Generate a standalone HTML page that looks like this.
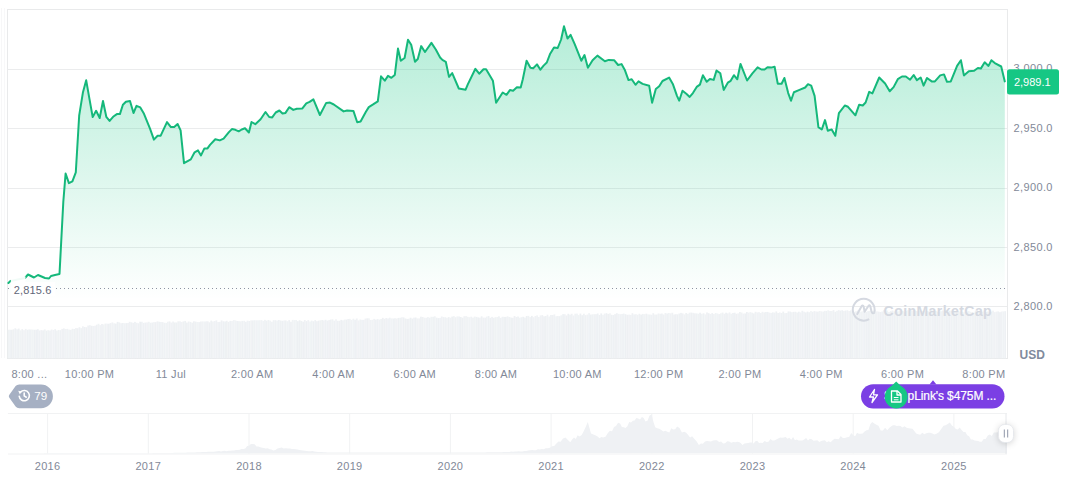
<!DOCTYPE html>
<html><head><meta charset="utf-8">
<style>
html,body{margin:0;padding:0;background:#fff;}
body{width:1072px;height:477px;overflow:hidden;position:relative;font-family:"Liberation Sans",sans-serif;}
svg{position:absolute;left:0;top:0;}
.lbl{font-family:"Liberation Sans",sans-serif;font-size:11px;fill:#828998;letter-spacing:0.3px;}
</style></head><body>
<svg width="1072" height="477" viewBox="0 0 1072 477">
<defs>
<linearGradient id="ag" x1="0" y1="26" x2="0" y2="300" gradientUnits="userSpaceOnUse">
<stop offset="0" stop-color="#16c784" stop-opacity="0.32"/>
<stop offset="1" stop-color="#16c784" stop-opacity="0.0"/>
</linearGradient>
<clipPath id="pc"><rect x="7.5" y="9.5" width="999.5" height="349"/></clipPath>
</defs>
<line x1="1.5" y1="8" x2="1.5" y2="358" stroke="#f7f7f8" stroke-width="1"/><line x1="4.5" y1="8" x2="4.5" y2="358" stroke="#f8f8f9" stroke-width="1"/>
<!-- frame -->
<rect x="7.5" y="9.5" width="1000" height="349" fill="none" stroke="#e9eaeb" stroke-width="1"/>
<g stroke="#ebeced" stroke-width="1"><line x1="7.5" y1="69.5" x2="1007" y2="69.5"/><line x1="7.5" y1="128.5" x2="1007" y2="128.5"/><line x1="7.5" y1="188.5" x2="1007" y2="188.5"/><line x1="7.5" y1="247.5" x2="1007" y2="247.5"/><line x1="7.5" y1="306.5" x2="1007" y2="306.5"/></g>
<!-- volume -->
<g fill="#edf0f3"><rect x="7.50" y="329.7" width="1.73" height="28.8" fill-opacity="0.82"/><rect x="9.23" y="329.8" width="1.73" height="28.7" fill-opacity="0.93"/><rect x="10.97" y="329.8" width="1.73" height="28.7" fill-opacity="0.99"/><rect x="12.70" y="329.3" width="1.73" height="29.2" fill-opacity="0.96"/><rect x="14.43" y="328.3" width="1.73" height="30.2" fill-opacity="0.95"/><rect x="16.17" y="329.3" width="1.73" height="29.2" fill-opacity="0.94"/><rect x="17.90" y="328.6" width="1.73" height="29.9" fill-opacity="0.95"/><rect x="19.63" y="330.3" width="1.73" height="28.2" fill-opacity="0.81"/><rect x="21.37" y="329.1" width="1.73" height="29.4" fill-opacity="0.91"/><rect x="23.10" y="330.2" width="1.73" height="28.3" fill-opacity="0.85"/><rect x="24.84" y="328.9" width="1.73" height="29.6" fill-opacity="0.85"/><rect x="26.57" y="329.8" width="1.73" height="28.7" fill-opacity="0.95"/><rect x="28.30" y="329.4" width="1.73" height="29.1" fill-opacity="0.87"/><rect x="30.04" y="329.5" width="1.73" height="29.0" fill-opacity="0.87"/><rect x="31.77" y="329.6" width="1.73" height="28.9" fill-opacity="0.82"/><rect x="33.50" y="329.8" width="1.73" height="28.7" fill-opacity="0.99"/><rect x="35.24" y="329.7" width="1.73" height="28.8" fill-opacity="0.95"/><rect x="36.97" y="329.2" width="1.73" height="29.3" fill-opacity="0.94"/><rect x="38.70" y="330.5" width="1.73" height="28.0" fill-opacity="0.93"/><rect x="40.44" y="330.1" width="1.73" height="28.4" fill-opacity="0.90"/><rect x="42.17" y="330.4" width="1.73" height="28.1" fill-opacity="0.98"/><rect x="43.90" y="329.4" width="1.73" height="29.1" fill-opacity="0.82"/><rect x="45.64" y="330.7" width="1.73" height="27.8" fill-opacity="0.98"/><rect x="47.37" y="330.2" width="1.73" height="28.3" fill-opacity="0.89"/><rect x="49.10" y="330.5" width="1.73" height="28.0" fill-opacity="0.84"/><rect x="50.84" y="329.5" width="1.73" height="29.0" fill-opacity="0.84"/><rect x="52.57" y="330.0" width="1.73" height="28.5" fill-opacity="0.86"/><rect x="54.30" y="329.2" width="1.73" height="29.3" fill-opacity="0.94"/><rect x="56.04" y="330.6" width="1.73" height="27.9" fill-opacity="0.86"/><rect x="57.77" y="330.0" width="1.73" height="28.5" fill-opacity="0.88"/><rect x="59.51" y="330.2" width="1.73" height="28.3" fill-opacity="0.92"/><rect x="61.24" y="328.9" width="1.73" height="29.6" fill-opacity="0.84"/><rect x="62.97" y="328.4" width="1.73" height="30.1" fill-opacity="0.90"/><rect x="64.71" y="329.0" width="1.73" height="29.5" fill-opacity="0.83"/><rect x="66.44" y="328.9" width="1.73" height="29.6" fill-opacity="0.86"/><rect x="68.17" y="329.6" width="1.73" height="28.9" fill-opacity="0.83"/><rect x="69.91" y="329.9" width="1.73" height="28.6" fill-opacity="0.90"/><rect x="71.64" y="328.8" width="1.73" height="29.7" fill-opacity="0.89"/><rect x="73.37" y="329.0" width="1.73" height="29.5" fill-opacity="0.96"/><rect x="75.11" y="328.1" width="1.73" height="30.4" fill-opacity="0.90"/><rect x="76.84" y="328.2" width="1.73" height="30.3" fill-opacity="0.97"/><rect x="78.57" y="327.2" width="1.73" height="31.3" fill-opacity="0.95"/><rect x="80.31" y="328.1" width="1.73" height="30.4" fill-opacity="0.89"/><rect x="82.04" y="326.3" width="1.73" height="32.2" fill-opacity="0.85"/><rect x="83.77" y="327.0" width="1.73" height="31.5" fill-opacity="0.94"/><rect x="85.51" y="327.2" width="1.73" height="31.3" fill-opacity="0.97"/><rect x="87.24" y="325.5" width="1.73" height="33.0" fill-opacity="0.84"/><rect x="88.97" y="325.2" width="1.73" height="33.3" fill-opacity="0.84"/><rect x="90.71" y="325.8" width="1.73" height="32.7" fill-opacity="0.97"/><rect x="92.44" y="326.0" width="1.73" height="32.5" fill-opacity="0.85"/><rect x="94.18" y="325.7" width="1.73" height="32.8" fill-opacity="0.86"/><rect x="95.91" y="324.7" width="1.73" height="33.8" fill-opacity="0.95"/><rect x="97.64" y="323.8" width="1.73" height="34.7" fill-opacity="0.82"/><rect x="99.38" y="325.1" width="1.73" height="33.4" fill-opacity="0.86"/><rect x="101.11" y="324.0" width="1.73" height="34.5" fill-opacity="0.92"/><rect x="102.84" y="324.4" width="1.73" height="34.1" fill-opacity="0.80"/><rect x="104.58" y="323.6" width="1.73" height="34.9" fill-opacity="0.89"/><rect x="106.31" y="323.7" width="1.73" height="34.8" fill-opacity="0.84"/><rect x="108.04" y="323.7" width="1.73" height="34.8" fill-opacity="0.99"/><rect x="109.78" y="323.1" width="1.73" height="35.4" fill-opacity="0.91"/><rect x="111.51" y="322.4" width="1.73" height="36.1" fill-opacity="0.85"/><rect x="113.24" y="323.3" width="1.73" height="35.2" fill-opacity="0.82"/><rect x="114.98" y="323.6" width="1.73" height="34.9" fill-opacity="0.98"/><rect x="116.71" y="321.9" width="1.73" height="36.6" fill-opacity="0.99"/><rect x="118.44" y="322.4" width="1.73" height="36.1" fill-opacity="0.95"/><rect x="120.18" y="323.2" width="1.73" height="35.3" fill-opacity="0.86"/><rect x="121.91" y="323.0" width="1.73" height="35.5" fill-opacity="0.93"/><rect x="123.64" y="323.2" width="1.73" height="35.3" fill-opacity="0.85"/><rect x="125.38" y="323.1" width="1.73" height="35.4" fill-opacity="0.99"/><rect x="127.11" y="323.0" width="1.73" height="35.5" fill-opacity="0.91"/><rect x="128.85" y="321.8" width="1.73" height="36.7" fill-opacity="0.90"/><rect x="130.58" y="322.3" width="1.73" height="36.2" fill-opacity="0.94"/><rect x="132.31" y="322.9" width="1.73" height="35.6" fill-opacity="0.91"/><rect x="134.05" y="321.9" width="1.73" height="36.6" fill-opacity="0.93"/><rect x="135.78" y="322.8" width="1.73" height="35.7" fill-opacity="0.84"/><rect x="137.51" y="323.3" width="1.73" height="35.2" fill-opacity="0.93"/><rect x="139.25" y="321.7" width="1.73" height="36.8" fill-opacity="0.99"/><rect x="140.98" y="321.8" width="1.73" height="36.7" fill-opacity="0.87"/><rect x="142.71" y="322.9" width="1.73" height="35.6" fill-opacity="0.92"/><rect x="144.45" y="322.6" width="1.73" height="35.9" fill-opacity="0.93"/><rect x="146.18" y="322.4" width="1.73" height="36.1" fill-opacity="0.86"/><rect x="147.91" y="321.8" width="1.73" height="36.7" fill-opacity="0.81"/><rect x="149.65" y="322.8" width="1.73" height="35.7" fill-opacity="0.95"/><rect x="151.38" y="322.5" width="1.73" height="36.0" fill-opacity="0.95"/><rect x="153.11" y="322.1" width="1.73" height="36.4" fill-opacity="0.85"/><rect x="154.85" y="322.1" width="1.73" height="36.4" fill-opacity="0.97"/><rect x="156.58" y="321.4" width="1.73" height="37.1" fill-opacity="0.90"/><rect x="158.32" y="321.8" width="1.73" height="36.7" fill-opacity="0.95"/><rect x="160.05" y="322.0" width="1.73" height="36.5" fill-opacity="0.87"/><rect x="161.78" y="322.1" width="1.73" height="36.4" fill-opacity="0.91"/><rect x="163.52" y="322.8" width="1.73" height="35.7" fill-opacity="0.87"/><rect x="165.25" y="322.9" width="1.73" height="35.6" fill-opacity="0.82"/><rect x="166.98" y="321.7" width="1.73" height="36.8" fill-opacity="0.82"/><rect x="168.72" y="321.4" width="1.73" height="37.1" fill-opacity="0.96"/><rect x="170.45" y="322.6" width="1.73" height="35.9" fill-opacity="0.84"/><rect x="172.18" y="321.5" width="1.73" height="37.0" fill-opacity="0.88"/><rect x="173.92" y="322.5" width="1.73" height="36.0" fill-opacity="0.96"/><rect x="175.65" y="322.5" width="1.73" height="36.0" fill-opacity="0.92"/><rect x="177.38" y="321.3" width="1.73" height="37.2" fill-opacity="0.88"/><rect x="179.12" y="321.3" width="1.73" height="37.2" fill-opacity="0.91"/><rect x="180.85" y="322.0" width="1.73" height="36.5" fill-opacity="0.84"/><rect x="182.58" y="321.4" width="1.73" height="37.1" fill-opacity="0.96"/><rect x="184.32" y="320.9" width="1.73" height="37.6" fill-opacity="0.96"/><rect x="186.05" y="322.6" width="1.73" height="35.9" fill-opacity="0.99"/><rect x="187.78" y="321.5" width="1.73" height="37.0" fill-opacity="0.91"/><rect x="189.52" y="321.9" width="1.73" height="36.6" fill-opacity="0.93"/><rect x="191.25" y="322.7" width="1.73" height="35.8" fill-opacity="0.94"/><rect x="192.99" y="321.3" width="1.73" height="37.2" fill-opacity="0.97"/><rect x="194.72" y="321.6" width="1.73" height="36.9" fill-opacity="0.92"/><rect x="196.45" y="322.0" width="1.73" height="36.5" fill-opacity="0.80"/><rect x="198.19" y="322.1" width="1.73" height="36.4" fill-opacity="0.93"/><rect x="199.92" y="321.5" width="1.73" height="37.0" fill-opacity="0.90"/><rect x="201.65" y="321.4" width="1.73" height="37.1" fill-opacity="0.84"/><rect x="203.39" y="321.5" width="1.73" height="37.0" fill-opacity="0.81"/><rect x="205.12" y="321.4" width="1.73" height="37.1" fill-opacity="0.93"/><rect x="206.85" y="321.3" width="1.73" height="37.2" fill-opacity="0.91"/><rect x="208.59" y="322.3" width="1.73" height="36.2" fill-opacity="0.98"/><rect x="210.32" y="320.6" width="1.73" height="37.9" fill-opacity="0.96"/><rect x="212.05" y="321.5" width="1.73" height="37.0" fill-opacity="0.81"/><rect x="213.79" y="321.0" width="1.73" height="37.5" fill-opacity="0.85"/><rect x="215.52" y="320.4" width="1.73" height="38.1" fill-opacity="0.91"/><rect x="217.25" y="322.0" width="1.73" height="36.5" fill-opacity="0.86"/><rect x="218.99" y="321.9" width="1.73" height="36.6" fill-opacity="0.94"/><rect x="220.72" y="320.4" width="1.73" height="38.1" fill-opacity="0.97"/><rect x="222.45" y="321.3" width="1.73" height="37.2" fill-opacity="0.99"/><rect x="224.19" y="321.5" width="1.73" height="37.0" fill-opacity="0.95"/><rect x="225.92" y="320.8" width="1.73" height="37.7" fill-opacity="0.96"/><rect x="227.66" y="321.9" width="1.73" height="36.6" fill-opacity="0.97"/><rect x="229.39" y="320.9" width="1.73" height="37.6" fill-opacity="0.95"/><rect x="231.12" y="321.0" width="1.73" height="37.5" fill-opacity="0.82"/><rect x="232.86" y="320.1" width="1.73" height="38.4" fill-opacity="0.82"/><rect x="234.59" y="320.4" width="1.73" height="38.1" fill-opacity="0.83"/><rect x="236.32" y="321.0" width="1.73" height="37.5" fill-opacity="0.94"/><rect x="238.06" y="321.1" width="1.73" height="37.4" fill-opacity="0.88"/><rect x="239.79" y="321.3" width="1.73" height="37.2" fill-opacity="0.86"/><rect x="241.52" y="320.9" width="1.73" height="37.6" fill-opacity="0.95"/><rect x="243.26" y="320.8" width="1.73" height="37.7" fill-opacity="0.84"/><rect x="244.99" y="321.8" width="1.73" height="36.7" fill-opacity="0.94"/><rect x="246.72" y="320.7" width="1.73" height="37.8" fill-opacity="0.87"/><rect x="248.46" y="321.0" width="1.73" height="37.5" fill-opacity="0.92"/><rect x="250.19" y="320.4" width="1.73" height="38.1" fill-opacity="0.80"/><rect x="251.92" y="320.4" width="1.73" height="38.1" fill-opacity="0.96"/><rect x="253.66" y="320.2" width="1.73" height="38.3" fill-opacity="0.89"/><rect x="255.39" y="320.3" width="1.73" height="38.2" fill-opacity="0.84"/><rect x="257.12" y="320.3" width="1.73" height="38.2" fill-opacity="0.88"/><rect x="258.86" y="320.2" width="1.73" height="38.3" fill-opacity="0.81"/><rect x="260.59" y="320.1" width="1.73" height="38.4" fill-opacity="0.83"/><rect x="262.33" y="320.9" width="1.73" height="37.6" fill-opacity="0.81"/><rect x="264.06" y="319.9" width="1.73" height="38.6" fill-opacity="0.89"/><rect x="265.79" y="320.7" width="1.73" height="37.8" fill-opacity="0.94"/><rect x="267.53" y="320.0" width="1.73" height="38.5" fill-opacity="0.88"/><rect x="269.26" y="320.7" width="1.73" height="37.8" fill-opacity="0.81"/><rect x="270.99" y="321.8" width="1.73" height="36.7" fill-opacity="0.84"/><rect x="272.73" y="320.1" width="1.73" height="38.4" fill-opacity="0.89"/><rect x="274.46" y="320.2" width="1.73" height="38.3" fill-opacity="0.92"/><rect x="276.19" y="320.6" width="1.73" height="37.9" fill-opacity="0.82"/><rect x="277.93" y="320.0" width="1.73" height="38.5" fill-opacity="0.95"/><rect x="279.66" y="320.5" width="1.73" height="38.0" fill-opacity="0.96"/><rect x="281.39" y="320.8" width="1.73" height="37.7" fill-opacity="0.99"/><rect x="283.13" y="320.5" width="1.73" height="38.0" fill-opacity="0.85"/><rect x="284.86" y="320.4" width="1.73" height="38.1" fill-opacity="0.96"/><rect x="286.59" y="321.2" width="1.73" height="37.3" fill-opacity="0.87"/><rect x="288.33" y="320.1" width="1.73" height="38.4" fill-opacity="0.94"/><rect x="290.06" y="321.8" width="1.73" height="36.7" fill-opacity="0.92"/><rect x="291.80" y="319.9" width="1.73" height="38.6" fill-opacity="0.81"/><rect x="293.53" y="320.1" width="1.73" height="38.4" fill-opacity="0.83"/><rect x="295.26" y="320.0" width="1.73" height="38.5" fill-opacity="0.81"/><rect x="297.00" y="321.2" width="1.73" height="37.3" fill-opacity="0.98"/><rect x="298.73" y="320.3" width="1.73" height="38.2" fill-opacity="0.99"/><rect x="300.46" y="320.9" width="1.73" height="37.6" fill-opacity="0.96"/><rect x="302.20" y="321.7" width="1.73" height="36.8" fill-opacity="0.99"/><rect x="303.93" y="320.0" width="1.73" height="38.5" fill-opacity="0.86"/><rect x="305.66" y="321.1" width="1.73" height="37.4" fill-opacity="0.99"/><rect x="307.40" y="320.1" width="1.73" height="38.4" fill-opacity="0.86"/><rect x="309.13" y="321.6" width="1.73" height="36.9" fill-opacity="0.82"/><rect x="310.86" y="320.6" width="1.73" height="37.9" fill-opacity="0.87"/><rect x="312.60" y="321.2" width="1.73" height="37.3" fill-opacity="0.99"/><rect x="314.33" y="320.1" width="1.73" height="38.4" fill-opacity="0.95"/><rect x="316.06" y="321.2" width="1.73" height="37.3" fill-opacity="0.97"/><rect x="317.80" y="320.7" width="1.73" height="37.8" fill-opacity="0.98"/><rect x="319.53" y="320.3" width="1.73" height="38.2" fill-opacity="0.88"/><rect x="321.26" y="320.0" width="1.73" height="38.5" fill-opacity="0.96"/><rect x="323.00" y="320.4" width="1.73" height="38.1" fill-opacity="0.85"/><rect x="324.73" y="319.8" width="1.73" height="38.7" fill-opacity="0.94"/><rect x="326.47" y="320.6" width="1.73" height="37.9" fill-opacity="0.94"/><rect x="328.20" y="320.1" width="1.73" height="38.4" fill-opacity="0.90"/><rect x="329.93" y="319.6" width="1.73" height="38.9" fill-opacity="0.94"/><rect x="331.67" y="319.3" width="1.73" height="39.2" fill-opacity="0.89"/><rect x="333.40" y="320.7" width="1.73" height="37.8" fill-opacity="0.94"/><rect x="335.13" y="319.3" width="1.73" height="39.2" fill-opacity="0.85"/><rect x="336.87" y="320.8" width="1.73" height="37.7" fill-opacity="0.93"/><rect x="338.60" y="320.8" width="1.73" height="37.7" fill-opacity="0.97"/><rect x="340.33" y="319.9" width="1.73" height="38.6" fill-opacity="0.98"/><rect x="342.07" y="320.4" width="1.73" height="38.1" fill-opacity="0.87"/><rect x="343.80" y="319.6" width="1.73" height="38.9" fill-opacity="0.81"/><rect x="345.53" y="319.6" width="1.73" height="38.9" fill-opacity="0.99"/><rect x="347.27" y="319.0" width="1.73" height="39.5" fill-opacity="0.91"/><rect x="349.00" y="318.9" width="1.73" height="39.6" fill-opacity="0.82"/><rect x="350.73" y="319.9" width="1.73" height="38.6" fill-opacity="0.85"/><rect x="352.47" y="318.7" width="1.73" height="39.8" fill-opacity="0.83"/><rect x="354.20" y="319.8" width="1.73" height="38.7" fill-opacity="0.92"/><rect x="355.93" y="318.5" width="1.73" height="40.0" fill-opacity="0.85"/><rect x="357.67" y="320.4" width="1.73" height="38.1" fill-opacity="0.84"/><rect x="359.40" y="319.5" width="1.73" height="39.0" fill-opacity="0.88"/><rect x="361.14" y="319.9" width="1.73" height="38.6" fill-opacity="0.92"/><rect x="362.87" y="319.9" width="1.73" height="38.6" fill-opacity="0.91"/><rect x="364.60" y="318.6" width="1.73" height="39.9" fill-opacity="0.84"/><rect x="366.34" y="318.3" width="1.73" height="40.2" fill-opacity="0.97"/><rect x="368.07" y="318.3" width="1.73" height="40.2" fill-opacity="0.80"/><rect x="369.80" y="320.0" width="1.73" height="38.5" fill-opacity="0.84"/><rect x="371.54" y="319.8" width="1.73" height="38.7" fill-opacity="0.82"/><rect x="373.27" y="318.9" width="1.73" height="39.6" fill-opacity="0.84"/><rect x="375.00" y="319.6" width="1.73" height="38.9" fill-opacity="0.92"/><rect x="376.74" y="319.1" width="1.73" height="39.4" fill-opacity="0.95"/><rect x="378.47" y="319.6" width="1.73" height="38.9" fill-opacity="0.87"/><rect x="380.20" y="319.0" width="1.73" height="39.5" fill-opacity="0.89"/><rect x="381.94" y="317.9" width="1.73" height="40.6" fill-opacity="0.97"/><rect x="383.67" y="318.8" width="1.73" height="39.7" fill-opacity="0.96"/><rect x="385.40" y="318.0" width="1.73" height="40.5" fill-opacity="0.91"/><rect x="387.14" y="318.5" width="1.73" height="40.0" fill-opacity="0.95"/><rect x="388.87" y="317.7" width="1.73" height="40.8" fill-opacity="0.87"/><rect x="390.61" y="318.4" width="1.73" height="40.1" fill-opacity="0.81"/><rect x="392.34" y="318.5" width="1.73" height="40.0" fill-opacity="0.95"/><rect x="394.07" y="318.2" width="1.73" height="40.3" fill-opacity="0.93"/><rect x="395.81" y="318.5" width="1.73" height="40.0" fill-opacity="0.84"/><rect x="397.54" y="317.9" width="1.73" height="40.6" fill-opacity="1.00"/><rect x="399.27" y="317.8" width="1.73" height="40.7" fill-opacity="0.89"/><rect x="401.01" y="317.3" width="1.73" height="41.2" fill-opacity="0.84"/><rect x="402.74" y="317.4" width="1.73" height="41.1" fill-opacity="0.99"/><rect x="404.47" y="318.5" width="1.73" height="40.0" fill-opacity="0.97"/><rect x="406.21" y="318.9" width="1.73" height="39.6" fill-opacity="0.92"/><rect x="407.94" y="318.8" width="1.73" height="39.7" fill-opacity="0.91"/><rect x="409.67" y="317.7" width="1.73" height="40.8" fill-opacity="0.99"/><rect x="411.41" y="318.6" width="1.73" height="39.9" fill-opacity="0.99"/><rect x="413.14" y="317.7" width="1.73" height="40.8" fill-opacity="0.95"/><rect x="414.87" y="317.5" width="1.73" height="41.0" fill-opacity="1.00"/><rect x="416.61" y="318.4" width="1.73" height="40.1" fill-opacity="0.86"/><rect x="418.34" y="318.4" width="1.73" height="40.1" fill-opacity="0.84"/><rect x="420.07" y="316.7" width="1.73" height="41.8" fill-opacity="0.94"/><rect x="421.81" y="317.0" width="1.73" height="41.5" fill-opacity="0.90"/><rect x="423.54" y="317.7" width="1.73" height="40.8" fill-opacity="0.81"/><rect x="425.28" y="317.8" width="1.73" height="40.7" fill-opacity="0.86"/><rect x="427.01" y="317.1" width="1.73" height="41.4" fill-opacity="0.87"/><rect x="428.74" y="317.7" width="1.73" height="40.8" fill-opacity="0.95"/><rect x="430.48" y="316.8" width="1.73" height="41.7" fill-opacity="0.82"/><rect x="432.21" y="316.8" width="1.73" height="41.7" fill-opacity="0.88"/><rect x="433.94" y="316.3" width="1.73" height="42.2" fill-opacity="0.83"/><rect x="435.68" y="317.7" width="1.73" height="40.8" fill-opacity="0.94"/><rect x="437.41" y="318.1" width="1.73" height="40.4" fill-opacity="1.00"/><rect x="439.14" y="317.9" width="1.73" height="40.6" fill-opacity="0.87"/><rect x="440.88" y="316.5" width="1.73" height="42.0" fill-opacity="0.86"/><rect x="442.61" y="317.1" width="1.73" height="41.4" fill-opacity="0.91"/><rect x="444.34" y="317.2" width="1.73" height="41.3" fill-opacity="0.87"/><rect x="446.08" y="317.8" width="1.73" height="40.7" fill-opacity="0.86"/><rect x="447.81" y="317.1" width="1.73" height="41.4" fill-opacity="0.98"/><rect x="449.54" y="317.7" width="1.73" height="40.8" fill-opacity="0.86"/><rect x="451.28" y="316.6" width="1.73" height="41.9" fill-opacity="0.96"/><rect x="453.01" y="316.1" width="1.73" height="42.4" fill-opacity="0.83"/><rect x="454.74" y="317.2" width="1.73" height="41.3" fill-opacity="0.91"/><rect x="456.48" y="316.4" width="1.73" height="42.1" fill-opacity="0.81"/><rect x="458.21" y="316.5" width="1.73" height="42.0" fill-opacity="0.95"/><rect x="459.95" y="317.0" width="1.73" height="41.5" fill-opacity="1.00"/><rect x="461.68" y="317.7" width="1.73" height="40.8" fill-opacity="1.00"/><rect x="463.41" y="316.2" width="1.73" height="42.3" fill-opacity="0.84"/><rect x="465.15" y="316.1" width="1.73" height="42.4" fill-opacity="0.89"/><rect x="466.88" y="316.8" width="1.73" height="41.7" fill-opacity="0.81"/><rect x="468.61" y="317.2" width="1.73" height="41.3" fill-opacity="0.82"/><rect x="470.35" y="316.7" width="1.73" height="41.8" fill-opacity="0.85"/><rect x="472.08" y="317.7" width="1.73" height="40.8" fill-opacity="0.88"/><rect x="473.81" y="316.6" width="1.73" height="41.9" fill-opacity="0.81"/><rect x="475.55" y="316.9" width="1.73" height="41.6" fill-opacity="0.93"/><rect x="477.28" y="317.4" width="1.73" height="41.1" fill-opacity="0.98"/><rect x="479.01" y="317.7" width="1.73" height="40.8" fill-opacity="0.85"/><rect x="480.75" y="316.3" width="1.73" height="42.2" fill-opacity="0.95"/><rect x="482.48" y="317.6" width="1.73" height="40.9" fill-opacity="0.90"/><rect x="484.21" y="317.7" width="1.73" height="40.8" fill-opacity="0.91"/><rect x="485.95" y="316.6" width="1.73" height="41.9" fill-opacity="0.83"/><rect x="487.68" y="316.0" width="1.73" height="42.5" fill-opacity="0.93"/><rect x="489.41" y="317.8" width="1.73" height="40.7" fill-opacity="0.98"/><rect x="491.15" y="316.9" width="1.73" height="41.6" fill-opacity="0.93"/><rect x="492.88" y="317.8" width="1.73" height="40.7" fill-opacity="0.96"/><rect x="494.62" y="317.2" width="1.73" height="41.3" fill-opacity="0.88"/><rect x="496.35" y="317.0" width="1.73" height="41.5" fill-opacity="0.83"/><rect x="498.08" y="316.3" width="1.73" height="42.2" fill-opacity="0.94"/><rect x="499.82" y="317.9" width="1.73" height="40.6" fill-opacity="0.91"/><rect x="501.55" y="316.8" width="1.73" height="41.7" fill-opacity="0.87"/><rect x="503.28" y="316.9" width="1.73" height="41.6" fill-opacity="0.96"/><rect x="505.02" y="316.9" width="1.73" height="41.6" fill-opacity="0.99"/><rect x="506.75" y="316.3" width="1.73" height="42.2" fill-opacity="0.86"/><rect x="508.48" y="317.0" width="1.73" height="41.5" fill-opacity="0.88"/><rect x="510.22" y="317.6" width="1.73" height="40.9" fill-opacity="0.97"/><rect x="511.95" y="317.8" width="1.73" height="40.7" fill-opacity="0.92"/><rect x="513.68" y="316.0" width="1.73" height="42.5" fill-opacity="0.91"/><rect x="515.42" y="317.0" width="1.73" height="41.5" fill-opacity="0.90"/><rect x="517.15" y="316.5" width="1.73" height="42.0" fill-opacity="0.94"/><rect x="518.88" y="317.7" width="1.73" height="40.8" fill-opacity="0.82"/><rect x="520.62" y="317.2" width="1.73" height="41.3" fill-opacity="0.87"/><rect x="522.35" y="316.8" width="1.73" height="41.7" fill-opacity="0.98"/><rect x="524.09" y="317.6" width="1.73" height="40.9" fill-opacity="0.93"/><rect x="525.82" y="316.0" width="1.73" height="42.5" fill-opacity="0.98"/><rect x="527.55" y="315.9" width="1.73" height="42.6" fill-opacity="0.88"/><rect x="529.29" y="317.1" width="1.73" height="41.4" fill-opacity="0.86"/><rect x="531.02" y="315.9" width="1.73" height="42.6" fill-opacity="0.99"/><rect x="532.75" y="317.2" width="1.73" height="41.3" fill-opacity="0.86"/><rect x="534.49" y="316.0" width="1.73" height="42.5" fill-opacity="0.86"/><rect x="536.22" y="315.4" width="1.73" height="43.1" fill-opacity="0.85"/><rect x="537.95" y="317.0" width="1.73" height="41.5" fill-opacity="0.82"/><rect x="539.69" y="315.4" width="1.73" height="43.1" fill-opacity="0.84"/><rect x="541.42" y="315.1" width="1.73" height="43.4" fill-opacity="0.91"/><rect x="543.15" y="316.3" width="1.73" height="42.2" fill-opacity="0.97"/><rect x="544.89" y="316.0" width="1.73" height="42.5" fill-opacity="0.96"/><rect x="546.62" y="314.7" width="1.73" height="43.8" fill-opacity="0.86"/><rect x="548.35" y="316.5" width="1.73" height="42.0" fill-opacity="0.81"/><rect x="550.09" y="315.0" width="1.73" height="43.5" fill-opacity="0.90"/><rect x="551.82" y="315.0" width="1.73" height="43.5" fill-opacity="0.91"/><rect x="553.55" y="314.4" width="1.73" height="44.1" fill-opacity="0.85"/><rect x="555.29" y="316.2" width="1.73" height="42.3" fill-opacity="0.83"/><rect x="557.02" y="316.0" width="1.73" height="42.5" fill-opacity="0.84"/><rect x="558.76" y="316.1" width="1.73" height="42.4" fill-opacity="0.93"/><rect x="560.49" y="315.3" width="1.73" height="43.2" fill-opacity="0.83"/><rect x="562.22" y="314.1" width="1.73" height="44.4" fill-opacity="0.95"/><rect x="563.96" y="314.2" width="1.73" height="44.3" fill-opacity="0.84"/><rect x="565.69" y="315.5" width="1.73" height="43.0" fill-opacity="0.97"/><rect x="567.42" y="313.8" width="1.73" height="44.7" fill-opacity="0.99"/><rect x="569.16" y="314.7" width="1.73" height="43.8" fill-opacity="0.88"/><rect x="570.89" y="313.8" width="1.73" height="44.7" fill-opacity="0.88"/><rect x="572.62" y="315.5" width="1.73" height="43.0" fill-opacity="0.86"/><rect x="574.36" y="313.7" width="1.73" height="44.8" fill-opacity="0.83"/><rect x="576.09" y="313.6" width="1.73" height="44.9" fill-opacity="0.87"/><rect x="577.82" y="315.1" width="1.73" height="43.4" fill-opacity="0.82"/><rect x="579.56" y="313.6" width="1.73" height="44.9" fill-opacity="0.99"/><rect x="581.29" y="315.2" width="1.73" height="43.3" fill-opacity="1.00"/><rect x="583.02" y="313.7" width="1.73" height="44.8" fill-opacity="0.87"/><rect x="584.76" y="315.1" width="1.73" height="43.4" fill-opacity="0.90"/><rect x="586.49" y="314.6" width="1.73" height="43.9" fill-opacity="0.86"/><rect x="588.22" y="313.2" width="1.73" height="45.3" fill-opacity="0.87"/><rect x="589.96" y="314.6" width="1.73" height="43.9" fill-opacity="0.96"/><rect x="591.69" y="314.3" width="1.73" height="44.2" fill-opacity="0.89"/><rect x="593.43" y="314.2" width="1.73" height="44.3" fill-opacity="0.89"/><rect x="595.16" y="314.2" width="1.73" height="44.3" fill-opacity="0.97"/><rect x="596.89" y="313.5" width="1.73" height="45.0" fill-opacity="0.92"/><rect x="598.63" y="315.0" width="1.73" height="43.5" fill-opacity="0.97"/><rect x="600.36" y="313.4" width="1.73" height="45.1" fill-opacity="0.99"/><rect x="602.09" y="314.8" width="1.73" height="43.7" fill-opacity="0.83"/><rect x="603.83" y="313.6" width="1.73" height="44.9" fill-opacity="0.84"/><rect x="605.56" y="313.2" width="1.73" height="45.3" fill-opacity="1.00"/><rect x="607.29" y="313.9" width="1.73" height="44.6" fill-opacity="0.97"/><rect x="609.03" y="313.3" width="1.73" height="45.2" fill-opacity="0.80"/><rect x="610.76" y="314.8" width="1.73" height="43.7" fill-opacity="0.96"/><rect x="612.49" y="315.0" width="1.73" height="43.5" fill-opacity="0.94"/><rect x="614.23" y="314.1" width="1.73" height="44.4" fill-opacity="0.95"/><rect x="615.96" y="313.2" width="1.73" height="45.3" fill-opacity="0.91"/><rect x="617.69" y="313.9" width="1.73" height="44.6" fill-opacity="0.83"/><rect x="619.43" y="314.2" width="1.73" height="44.3" fill-opacity="0.86"/><rect x="621.16" y="314.0" width="1.73" height="44.5" fill-opacity="0.87"/><rect x="622.89" y="313.6" width="1.73" height="44.9" fill-opacity="0.87"/><rect x="624.63" y="314.2" width="1.73" height="44.3" fill-opacity="1.00"/><rect x="626.36" y="314.8" width="1.73" height="43.7" fill-opacity="0.97"/><rect x="628.10" y="314.6" width="1.73" height="43.9" fill-opacity="0.86"/><rect x="629.83" y="314.9" width="1.73" height="43.6" fill-opacity="0.85"/><rect x="631.56" y="313.2" width="1.73" height="45.3" fill-opacity="0.90"/><rect x="633.30" y="314.4" width="1.73" height="44.1" fill-opacity="0.87"/><rect x="635.03" y="314.2" width="1.73" height="44.3" fill-opacity="0.86"/><rect x="636.76" y="314.8" width="1.73" height="43.7" fill-opacity="0.89"/><rect x="638.50" y="313.8" width="1.73" height="44.7" fill-opacity="0.91"/><rect x="640.23" y="314.6" width="1.73" height="43.9" fill-opacity="1.00"/><rect x="641.96" y="313.9" width="1.73" height="44.6" fill-opacity="0.89"/><rect x="643.70" y="314.1" width="1.73" height="44.4" fill-opacity="0.81"/><rect x="645.43" y="313.7" width="1.73" height="44.8" fill-opacity="0.97"/><rect x="647.16" y="314.4" width="1.73" height="44.1" fill-opacity="0.81"/><rect x="648.90" y="314.5" width="1.73" height="44.0" fill-opacity="0.88"/><rect x="650.63" y="314.8" width="1.73" height="43.7" fill-opacity="0.87"/><rect x="652.36" y="313.2" width="1.73" height="45.3" fill-opacity="0.91"/><rect x="654.10" y="314.6" width="1.73" height="43.9" fill-opacity="0.89"/><rect x="655.83" y="314.5" width="1.73" height="44.0" fill-opacity="0.94"/><rect x="657.57" y="313.5" width="1.73" height="45.0" fill-opacity="0.86"/><rect x="659.30" y="313.8" width="1.73" height="44.7" fill-opacity="0.88"/><rect x="661.03" y="313.5" width="1.73" height="45.0" fill-opacity="0.93"/><rect x="662.77" y="314.5" width="1.73" height="44.0" fill-opacity="0.92"/><rect x="664.50" y="313.0" width="1.73" height="45.5" fill-opacity="0.84"/><rect x="666.23" y="313.5" width="1.73" height="45.0" fill-opacity="0.92"/><rect x="667.97" y="313.0" width="1.73" height="45.5" fill-opacity="0.82"/><rect x="669.70" y="313.3" width="1.73" height="45.2" fill-opacity="0.86"/><rect x="671.43" y="312.8" width="1.73" height="45.7" fill-opacity="0.91"/><rect x="673.17" y="314.5" width="1.73" height="44.0" fill-opacity="0.91"/><rect x="674.90" y="314.2" width="1.73" height="44.3" fill-opacity="0.97"/><rect x="676.63" y="314.3" width="1.73" height="44.2" fill-opacity="0.98"/><rect x="678.37" y="313.5" width="1.73" height="45.0" fill-opacity="0.94"/><rect x="680.10" y="312.9" width="1.73" height="45.6" fill-opacity="0.98"/><rect x="681.83" y="313.4" width="1.73" height="45.1" fill-opacity="0.90"/><rect x="683.57" y="314.4" width="1.73" height="44.1" fill-opacity="0.86"/><rect x="685.30" y="313.0" width="1.73" height="45.5" fill-opacity="0.96"/><rect x="687.03" y="313.8" width="1.73" height="44.7" fill-opacity="0.82"/><rect x="688.77" y="312.7" width="1.73" height="45.8" fill-opacity="0.87"/><rect x="690.50" y="312.6" width="1.73" height="45.9" fill-opacity="0.97"/><rect x="692.24" y="312.9" width="1.73" height="45.6" fill-opacity="0.85"/><rect x="693.97" y="313.3" width="1.73" height="45.2" fill-opacity="0.90"/><rect x="695.70" y="313.4" width="1.73" height="45.1" fill-opacity="0.93"/><rect x="697.44" y="313.8" width="1.73" height="44.7" fill-opacity="0.89"/><rect x="699.17" y="312.7" width="1.73" height="45.8" fill-opacity="1.00"/><rect x="700.90" y="313.8" width="1.73" height="44.7" fill-opacity="0.82"/><rect x="702.64" y="313.3" width="1.73" height="45.2" fill-opacity="0.95"/><rect x="704.37" y="314.4" width="1.73" height="44.1" fill-opacity="0.81"/><rect x="706.10" y="312.4" width="1.73" height="46.1" fill-opacity="0.90"/><rect x="707.84" y="313.2" width="1.73" height="45.3" fill-opacity="0.98"/><rect x="709.57" y="314.0" width="1.73" height="44.5" fill-opacity="0.87"/><rect x="711.30" y="313.1" width="1.73" height="45.4" fill-opacity="0.92"/><rect x="713.04" y="314.0" width="1.73" height="44.5" fill-opacity="0.84"/><rect x="714.77" y="313.0" width="1.73" height="45.5" fill-opacity="0.82"/><rect x="716.50" y="313.5" width="1.73" height="45.0" fill-opacity="0.81"/><rect x="718.24" y="314.1" width="1.73" height="44.4" fill-opacity="0.90"/><rect x="719.97" y="313.3" width="1.73" height="45.2" fill-opacity="0.82"/><rect x="721.70" y="312.6" width="1.73" height="45.9" fill-opacity="0.89"/><rect x="723.44" y="313.8" width="1.73" height="44.7" fill-opacity="0.91"/><rect x="725.17" y="312.7" width="1.73" height="45.8" fill-opacity="1.00"/><rect x="726.91" y="313.4" width="1.73" height="45.1" fill-opacity="0.91"/><rect x="728.64" y="312.4" width="1.73" height="46.1" fill-opacity="0.86"/><rect x="730.37" y="313.8" width="1.73" height="44.7" fill-opacity="0.83"/><rect x="732.11" y="313.0" width="1.73" height="45.5" fill-opacity="0.92"/><rect x="733.84" y="312.7" width="1.73" height="45.8" fill-opacity="0.95"/><rect x="735.57" y="313.8" width="1.73" height="44.7" fill-opacity="0.97"/><rect x="737.31" y="313.4" width="1.73" height="45.1" fill-opacity="0.84"/><rect x="739.04" y="312.0" width="1.73" height="46.5" fill-opacity="0.89"/><rect x="740.77" y="312.5" width="1.73" height="46.0" fill-opacity="0.84"/><rect x="742.51" y="313.6" width="1.73" height="44.9" fill-opacity="0.84"/><rect x="744.24" y="313.5" width="1.73" height="45.0" fill-opacity="0.99"/><rect x="745.97" y="312.0" width="1.73" height="46.5" fill-opacity="0.98"/><rect x="747.71" y="312.6" width="1.73" height="45.9" fill-opacity="0.84"/><rect x="749.44" y="312.1" width="1.73" height="46.4" fill-opacity="0.81"/><rect x="751.17" y="312.7" width="1.73" height="45.8" fill-opacity="0.88"/><rect x="752.91" y="313.4" width="1.73" height="45.1" fill-opacity="0.97"/><rect x="754.64" y="311.8" width="1.73" height="46.7" fill-opacity="0.88"/><rect x="756.38" y="312.4" width="1.73" height="46.1" fill-opacity="0.84"/><rect x="758.11" y="312.1" width="1.73" height="46.4" fill-opacity="0.85"/><rect x="759.84" y="313.0" width="1.73" height="45.5" fill-opacity="0.87"/><rect x="761.58" y="311.8" width="1.73" height="46.7" fill-opacity="0.84"/><rect x="763.31" y="312.4" width="1.73" height="46.1" fill-opacity="0.91"/><rect x="765.04" y="312.0" width="1.73" height="46.5" fill-opacity="0.94"/><rect x="766.78" y="311.9" width="1.73" height="46.6" fill-opacity="0.93"/><rect x="768.51" y="312.6" width="1.73" height="45.9" fill-opacity="0.84"/><rect x="770.24" y="312.9" width="1.73" height="45.6" fill-opacity="0.88"/><rect x="771.98" y="312.4" width="1.73" height="46.1" fill-opacity="0.92"/><rect x="773.71" y="312.6" width="1.73" height="45.9" fill-opacity="0.89"/><rect x="775.44" y="311.4" width="1.73" height="47.1" fill-opacity="0.96"/><rect x="777.18" y="313.0" width="1.73" height="45.5" fill-opacity="0.90"/><rect x="778.91" y="312.4" width="1.73" height="46.1" fill-opacity="0.85"/><rect x="780.64" y="313.0" width="1.73" height="45.5" fill-opacity="0.94"/><rect x="782.38" y="311.6" width="1.73" height="46.9" fill-opacity="0.96"/><rect x="784.11" y="313.1" width="1.73" height="45.4" fill-opacity="0.87"/><rect x="785.84" y="313.0" width="1.73" height="45.5" fill-opacity="0.90"/><rect x="787.58" y="311.4" width="1.73" height="47.1" fill-opacity="0.94"/><rect x="789.31" y="311.6" width="1.73" height="46.9" fill-opacity="0.95"/><rect x="791.05" y="312.1" width="1.73" height="46.4" fill-opacity="0.82"/><rect x="792.78" y="311.9" width="1.73" height="46.6" fill-opacity="0.97"/><rect x="794.51" y="311.8" width="1.73" height="46.7" fill-opacity="0.91"/><rect x="796.25" y="312.5" width="1.73" height="46.0" fill-opacity="0.89"/><rect x="797.98" y="311.7" width="1.73" height="46.8" fill-opacity="0.92"/><rect x="799.71" y="312.4" width="1.73" height="46.1" fill-opacity="0.84"/><rect x="801.45" y="310.8" width="1.73" height="47.7" fill-opacity="0.95"/><rect x="803.18" y="311.7" width="1.73" height="46.8" fill-opacity="0.86"/><rect x="804.91" y="312.4" width="1.73" height="46.1" fill-opacity="0.98"/><rect x="806.65" y="311.6" width="1.73" height="46.9" fill-opacity="1.00"/><rect x="808.38" y="312.2" width="1.73" height="46.3" fill-opacity="0.95"/><rect x="810.11" y="311.0" width="1.73" height="47.5" fill-opacity="0.80"/><rect x="811.85" y="311.8" width="1.73" height="46.7" fill-opacity="0.95"/><rect x="813.58" y="311.1" width="1.73" height="47.4" fill-opacity="0.90"/><rect x="815.31" y="311.5" width="1.73" height="47.0" fill-opacity="0.85"/><rect x="817.05" y="311.7" width="1.73" height="46.8" fill-opacity="0.91"/><rect x="818.78" y="311.0" width="1.73" height="47.5" fill-opacity="0.82"/><rect x="820.51" y="311.3" width="1.73" height="47.2" fill-opacity="0.86"/><rect x="822.25" y="311.6" width="1.73" height="46.9" fill-opacity="0.83"/><rect x="823.98" y="310.9" width="1.73" height="47.6" fill-opacity="0.84"/><rect x="825.72" y="310.9" width="1.73" height="47.6" fill-opacity="0.92"/><rect x="827.45" y="310.3" width="1.73" height="48.2" fill-opacity="0.81"/><rect x="829.18" y="311.0" width="1.73" height="47.5" fill-opacity="0.84"/><rect x="830.92" y="311.0" width="1.73" height="47.5" fill-opacity="0.83"/><rect x="832.65" y="310.1" width="1.73" height="48.4" fill-opacity="0.91"/><rect x="834.38" y="311.8" width="1.73" height="46.7" fill-opacity="0.97"/><rect x="836.12" y="310.9" width="1.73" height="47.6" fill-opacity="0.88"/><rect x="837.85" y="310.1" width="1.73" height="48.4" fill-opacity="0.86"/><rect x="839.58" y="310.6" width="1.73" height="47.9" fill-opacity="0.99"/><rect x="841.32" y="310.2" width="1.73" height="48.3" fill-opacity="0.99"/><rect x="843.05" y="310.9" width="1.73" height="47.6" fill-opacity="0.89"/><rect x="844.78" y="310.5" width="1.73" height="48.0" fill-opacity="0.99"/><rect x="846.52" y="310.3" width="1.73" height="48.2" fill-opacity="0.91"/><rect x="848.25" y="311.0" width="1.73" height="47.5" fill-opacity="0.84"/><rect x="849.98" y="310.4" width="1.73" height="48.1" fill-opacity="1.00"/><rect x="851.72" y="311.6" width="1.73" height="46.9" fill-opacity="0.95"/><rect x="853.45" y="311.8" width="1.73" height="46.7" fill-opacity="0.82"/><rect x="855.18" y="311.4" width="1.73" height="47.1" fill-opacity="0.95"/><rect x="856.92" y="310.5" width="1.73" height="48.0" fill-opacity="0.89"/><rect x="858.65" y="312.0" width="1.73" height="46.5" fill-opacity="0.87"/><rect x="860.39" y="311.5" width="1.73" height="47.0" fill-opacity="0.83"/><rect x="862.12" y="311.4" width="1.73" height="47.1" fill-opacity="0.85"/><rect x="863.85" y="311.1" width="1.73" height="47.4" fill-opacity="0.87"/><rect x="865.59" y="311.8" width="1.73" height="46.7" fill-opacity="0.95"/><rect x="867.32" y="311.1" width="1.73" height="47.4" fill-opacity="0.94"/><rect x="869.05" y="310.9" width="1.73" height="47.6" fill-opacity="0.96"/><rect x="870.79" y="310.6" width="1.73" height="47.9" fill-opacity="0.91"/><rect x="872.52" y="311.3" width="1.73" height="47.2" fill-opacity="0.88"/><rect x="874.25" y="310.2" width="1.73" height="48.3" fill-opacity="0.83"/><rect x="875.99" y="311.4" width="1.73" height="47.1" fill-opacity="0.84"/><rect x="877.72" y="311.6" width="1.73" height="46.9" fill-opacity="0.90"/><rect x="879.45" y="312.0" width="1.73" height="46.5" fill-opacity="0.97"/><rect x="881.19" y="311.6" width="1.73" height="46.9" fill-opacity="0.87"/><rect x="882.92" y="310.2" width="1.73" height="48.3" fill-opacity="0.91"/><rect x="884.65" y="311.6" width="1.73" height="46.9" fill-opacity="0.98"/><rect x="886.39" y="310.5" width="1.73" height="48.0" fill-opacity="0.83"/><rect x="888.12" y="312.1" width="1.73" height="46.4" fill-opacity="0.95"/><rect x="889.86" y="311.1" width="1.73" height="47.4" fill-opacity="0.95"/><rect x="891.59" y="310.5" width="1.73" height="48.0" fill-opacity="0.91"/><rect x="893.32" y="311.5" width="1.73" height="47.0" fill-opacity="0.92"/><rect x="895.06" y="310.5" width="1.73" height="48.0" fill-opacity="0.83"/><rect x="896.79" y="311.4" width="1.73" height="47.1" fill-opacity="0.98"/><rect x="898.52" y="310.5" width="1.73" height="48.0" fill-opacity="0.80"/><rect x="900.26" y="310.4" width="1.73" height="48.1" fill-opacity="0.96"/><rect x="901.99" y="311.0" width="1.73" height="47.5" fill-opacity="0.89"/><rect x="903.72" y="312.2" width="1.73" height="46.3" fill-opacity="0.92"/><rect x="905.46" y="310.8" width="1.73" height="47.7" fill-opacity="0.94"/><rect x="907.19" y="310.2" width="1.73" height="48.3" fill-opacity="0.86"/><rect x="908.92" y="311.6" width="1.73" height="46.9" fill-opacity="0.83"/><rect x="910.66" y="310.3" width="1.73" height="48.2" fill-opacity="0.90"/><rect x="912.39" y="310.9" width="1.73" height="47.6" fill-opacity="0.99"/><rect x="914.12" y="310.5" width="1.73" height="48.0" fill-opacity="0.96"/><rect x="915.86" y="311.1" width="1.73" height="47.4" fill-opacity="0.96"/><rect x="917.59" y="311.2" width="1.73" height="47.3" fill-opacity="0.93"/><rect x="919.32" y="310.9" width="1.73" height="47.6" fill-opacity="0.84"/><rect x="921.06" y="311.2" width="1.73" height="47.3" fill-opacity="0.96"/><rect x="922.79" y="311.0" width="1.73" height="47.5" fill-opacity="0.85"/><rect x="924.53" y="311.2" width="1.73" height="47.3" fill-opacity="0.82"/><rect x="926.26" y="311.0" width="1.73" height="47.5" fill-opacity="0.91"/><rect x="927.99" y="311.4" width="1.73" height="47.1" fill-opacity="0.92"/><rect x="929.73" y="310.9" width="1.73" height="47.6" fill-opacity="0.80"/><rect x="931.46" y="310.4" width="1.73" height="48.1" fill-opacity="0.87"/><rect x="933.19" y="310.8" width="1.73" height="47.7" fill-opacity="0.91"/><rect x="934.93" y="310.9" width="1.73" height="47.6" fill-opacity="0.95"/><rect x="936.66" y="311.6" width="1.73" height="46.9" fill-opacity="0.93"/><rect x="938.39" y="311.9" width="1.73" height="46.6" fill-opacity="0.90"/><rect x="940.13" y="311.2" width="1.73" height="47.3" fill-opacity="0.86"/><rect x="941.86" y="310.5" width="1.73" height="48.0" fill-opacity="0.96"/><rect x="943.59" y="311.4" width="1.73" height="47.1" fill-opacity="0.82"/><rect x="945.33" y="312.3" width="1.73" height="46.2" fill-opacity="0.92"/><rect x="947.06" y="311.7" width="1.73" height="46.8" fill-opacity="0.89"/><rect x="948.79" y="310.7" width="1.73" height="47.8" fill-opacity="1.00"/><rect x="950.53" y="310.8" width="1.73" height="47.7" fill-opacity="0.87"/><rect x="952.26" y="312.4" width="1.73" height="46.1" fill-opacity="0.82"/><rect x="953.99" y="311.5" width="1.73" height="47.0" fill-opacity="0.90"/><rect x="955.73" y="311.0" width="1.73" height="47.5" fill-opacity="0.98"/><rect x="957.46" y="311.3" width="1.73" height="47.2" fill-opacity="0.80"/><rect x="959.20" y="311.4" width="1.73" height="47.1" fill-opacity="0.80"/><rect x="960.93" y="311.9" width="1.73" height="46.6" fill-opacity="0.97"/><rect x="962.66" y="312.3" width="1.73" height="46.2" fill-opacity="0.81"/><rect x="964.40" y="311.9" width="1.73" height="46.6" fill-opacity="0.86"/><rect x="966.13" y="311.5" width="1.73" height="47.0" fill-opacity="0.86"/><rect x="967.86" y="311.1" width="1.73" height="47.4" fill-opacity="0.83"/><rect x="969.60" y="311.8" width="1.73" height="46.7" fill-opacity="0.82"/><rect x="971.33" y="312.5" width="1.73" height="46.0" fill-opacity="0.81"/><rect x="973.06" y="312.5" width="1.73" height="46.0" fill-opacity="0.84"/><rect x="974.80" y="310.7" width="1.73" height="47.8" fill-opacity="0.95"/><rect x="976.53" y="311.6" width="1.73" height="46.9" fill-opacity="0.95"/><rect x="978.26" y="311.6" width="1.73" height="46.9" fill-opacity="0.93"/><rect x="980.00" y="310.7" width="1.73" height="47.8" fill-opacity="0.93"/><rect x="981.73" y="311.6" width="1.73" height="46.9" fill-opacity="0.99"/><rect x="983.46" y="310.6" width="1.73" height="47.9" fill-opacity="0.81"/><rect x="985.20" y="312.0" width="1.73" height="46.5" fill-opacity="0.99"/><rect x="986.93" y="311.5" width="1.73" height="47.0" fill-opacity="0.94"/><rect x="988.66" y="311.7" width="1.73" height="46.8" fill-opacity="0.88"/><rect x="990.40" y="311.6" width="1.73" height="46.9" fill-opacity="0.92"/><rect x="992.13" y="310.7" width="1.73" height="47.8" fill-opacity="0.86"/><rect x="993.87" y="312.1" width="1.73" height="46.4" fill-opacity="0.85"/><rect x="995.60" y="311.6" width="1.73" height="46.9" fill-opacity="0.85"/><rect x="997.33" y="311.4" width="1.73" height="47.1" fill-opacity="0.93"/><rect x="999.07" y="312.2" width="1.73" height="46.3" fill-opacity="0.99"/><rect x="1000.80" y="311.6" width="1.73" height="46.9" fill-opacity="0.84"/><rect x="1002.53" y="311.4" width="1.73" height="47.1" fill-opacity="0.81"/><rect x="1004.27" y="311.2" width="1.73" height="47.3" fill-opacity="0.92"/></g>
<!-- area -->
<path d="M8.4,283.0 L10.5,281.0 L25.0,278.0 L28.0,274.5 L34.0,277.5 L38.0,275.0 L45.0,278.0 L49.0,278.5 L51.0,276.0 L55.0,275.0 L59.5,274.0 L63.3,202.0 L65.6,173.5 L68.9,183.1 L72.4,181.3 L75.8,172.3 L79.2,115.3 L82.9,92.6 L86.2,80.3 L89.4,98.7 L92.7,117.1 L96.1,110.8 L99.7,118.0 L103.0,101.0 L106.3,116.8 L109.6,120.9 L113.1,116.8 L116.9,114.1 L119.9,114.1 L122.9,104.7 L125.9,101.7 L130.0,101.0 L133.5,113.0 L136.5,105.8 L140.3,107.4 L144.0,113.8 L150.1,128.9 L153.9,139.6 L157.6,135.8 L160.7,135.7 L167.0,122.1 L170.9,127.1 L174.2,127.1 L177.6,124.0 L180.6,130.4 L184.0,163.2 L190.8,159.4 L194.6,152.3 L198.0,150.4 L201.0,155.4 L204.4,148.4 L207.5,148.4 L210.0,144.9 L215.3,139.2 L219.8,140.4 L223.6,138.6 L228.9,132.1 L231.9,129.1 L235.4,129.8 L238.7,131.3 L241.7,129.5 L245.0,128.3 L248.9,132.5 L251.5,122.0 L255.3,124.2 L260.6,119.2 L265.5,112.0 L269.2,117.0 L272.2,117.4 L275.7,112.5 L279.4,110.5 L282.5,113.5 L285.5,112.9 L289.2,107.2 L293.3,109.9 L296.8,108.7 L302.4,108.4 L306.3,103.4 L309.6,101.9 L313.4,99.3 L319.9,115.0 L326.2,102.9 L330.0,102.6 L333.8,104.5 L343.6,111.4 L347.1,110.5 L353.4,110.9 L357.2,122.3 L360.6,121.5 L365.9,111.8 L368.8,107.1 L373.5,104.2 L377.8,101.4 L381.0,76.3 L384.8,80.7 L388.0,75.9 L391.4,77.8 L394.8,75.0 L398.0,48.6 L400.8,60.8 L404.6,58.0 L408.0,39.7 L411.2,44.8 L415.0,61.8 L417.8,59.0 L421.2,46.1 L425.0,52.0 L431.4,42.9 L435.8,49.5 L440.1,57.5 L442.4,59.9 L445.8,61.8 L449.0,76.9 L452.2,73.1 L458.8,88.5 L465.6,89.7 L467.8,84.4 L475.4,68.8 L479.2,73.7 L483.5,69.3 L486.1,69.3 L492.9,80.7 L496.1,102.7 L502.7,92.5 L506.5,94.8 L509.9,90.1 L513.1,90.7 L516.9,87.3 L520.7,87.6 L522.8,79.2 L526.6,60.7 L530.4,67.8 L533.2,68.2 L537.0,64.4 L540.4,69.7 L543.6,65.6 L546.8,62.5 L550.2,53.7 L554.0,47.5 L557.7,48.0 L561.1,39.5 L564.0,26.3 L567.5,38.6 L570.6,34.8 L574.7,44.2 L581.3,60.7 L584.5,55.0 L587.9,67.8 L592.6,60.3 L597.4,55.6 L604.9,61.2 L608.7,59.9 L614.3,60.3 L618.1,65.0 L621.5,64.1 L624.7,69.7 L628.5,80.1 L631.7,79.2 L635.5,84.8 L638.5,81.4 L642.6,83.9 L649.2,85.8 L652.1,102.7 L655.8,89.0 L659.2,86.3 L662.5,81.0 L669.1,77.6 L672.8,83.9 L677.0,95.8 L679.2,100.7 L682.5,90.7 L686.3,93.7 L689.7,96.9 L692.9,93.1 L696.7,86.9 L699.9,84.6 L702.9,75.2 L706.7,81.8 L709.9,79.0 L713.7,79.9 L716.5,70.5 L720.3,73.3 L723.7,89.9 L727.8,82.7 L730.7,80.8 L733.9,75.2 L737.3,79.3 L740.5,63.9 L747.1,80.5 L752.4,73.3 L757.6,67.3 L761.4,69.5 L764.6,69.5 L767.5,67.3 L771.2,67.6 L774.6,66.7 L777.8,83.7 L781.6,83.7 L784.4,78.0 L788.2,93.1 L791.0,100.7 L793.9,92.2 L799.5,89.9 L805.2,87.5 L808.0,84.2 L811.2,85.6 L814.6,95.9 L818.4,127.1 L821.8,129.5 L825.0,120.1 L827.8,130.8 L831.7,129.4 L835.3,135.8 L838.9,113.1 L844.8,105.5 L848.0,106.8 L855.4,115.3 L859.2,104.7 L862.8,105.5 L865.6,102.5 L869.2,91.9 L872.4,93.4 L879.2,77.5 L885.1,83.5 L889.7,91.3 L893.6,87.1 L897.8,79.2 L902.0,76.5 L905.8,76.5 L910.1,79.7 L913.7,75.0 L916.9,80.1 L920.7,77.5 L923.6,85.6 L927.0,78.0 L931.7,81.4 L934.9,81.4 L940.2,75.4 L944.0,74.4 L947.0,81.8 L950.8,81.4 L957.1,65.9 L960.9,60.2 L963.9,75.4 L968.8,71.2 L974.1,70.8 L977.9,68.0 L980.8,68.6 L984.7,62.3 L988.5,65.9 L991.4,60.2 L994.8,63.1 L1001.2,66.5 L1004.8,81.4 L1004.8,358.5 L8.4,358.5Z" fill="url(#ag)" clip-path="url(#pc)"/>
<!-- dotted low line -->
<line x1="8" y1="288.5" x2="1006" y2="288.5" stroke="#8e94a3" stroke-width="1" stroke-dasharray="1 3" shape-rendering="crispEdges"/>
<rect x="11" y="282" width="44" height="14" fill="#fff"/>
<text class="lbl" x="13.8" y="294" style="fill:#5f6678;letter-spacing:0.15px">2,815.6</text>
<path d="M8.4,283.0 L10.5,281.0 L25.0,278.0 L28.0,274.5 L34.0,277.5 L38.0,275.0 L45.0,278.0 L49.0,278.5 L51.0,276.0 L55.0,275.0 L59.5,274.0 L63.3,202.0 L65.6,173.5 L68.9,183.1 L72.4,181.3 L75.8,172.3 L79.2,115.3 L82.9,92.6 L86.2,80.3 L89.4,98.7 L92.7,117.1 L96.1,110.8 L99.7,118.0 L103.0,101.0 L106.3,116.8 L109.6,120.9 L113.1,116.8 L116.9,114.1 L119.9,114.1 L122.9,104.7 L125.9,101.7 L130.0,101.0 L133.5,113.0 L136.5,105.8 L140.3,107.4 L144.0,113.8 L150.1,128.9 L153.9,139.6 L157.6,135.8 L160.7,135.7 L167.0,122.1 L170.9,127.1 L174.2,127.1 L177.6,124.0 L180.6,130.4 L184.0,163.2 L190.8,159.4 L194.6,152.3 L198.0,150.4 L201.0,155.4 L204.4,148.4 L207.5,148.4 L210.0,144.9 L215.3,139.2 L219.8,140.4 L223.6,138.6 L228.9,132.1 L231.9,129.1 L235.4,129.8 L238.7,131.3 L241.7,129.5 L245.0,128.3 L248.9,132.5 L251.5,122.0 L255.3,124.2 L260.6,119.2 L265.5,112.0 L269.2,117.0 L272.2,117.4 L275.7,112.5 L279.4,110.5 L282.5,113.5 L285.5,112.9 L289.2,107.2 L293.3,109.9 L296.8,108.7 L302.4,108.4 L306.3,103.4 L309.6,101.9 L313.4,99.3 L319.9,115.0 L326.2,102.9 L330.0,102.6 L333.8,104.5 L343.6,111.4 L347.1,110.5 L353.4,110.9 L357.2,122.3 L360.6,121.5 L365.9,111.8 L368.8,107.1 L373.5,104.2 L377.8,101.4 L381.0,76.3 L384.8,80.7 L388.0,75.9 L391.4,77.8 L394.8,75.0 L398.0,48.6 L400.8,60.8 L404.6,58.0 L408.0,39.7 L411.2,44.8 L415.0,61.8 L417.8,59.0 L421.2,46.1 L425.0,52.0 L431.4,42.9 L435.8,49.5 L440.1,57.5 L442.4,59.9 L445.8,61.8 L449.0,76.9 L452.2,73.1 L458.8,88.5 L465.6,89.7 L467.8,84.4 L475.4,68.8 L479.2,73.7 L483.5,69.3 L486.1,69.3 L492.9,80.7 L496.1,102.7 L502.7,92.5 L506.5,94.8 L509.9,90.1 L513.1,90.7 L516.9,87.3 L520.7,87.6 L522.8,79.2 L526.6,60.7 L530.4,67.8 L533.2,68.2 L537.0,64.4 L540.4,69.7 L543.6,65.6 L546.8,62.5 L550.2,53.7 L554.0,47.5 L557.7,48.0 L561.1,39.5 L564.0,26.3 L567.5,38.6 L570.6,34.8 L574.7,44.2 L581.3,60.7 L584.5,55.0 L587.9,67.8 L592.6,60.3 L597.4,55.6 L604.9,61.2 L608.7,59.9 L614.3,60.3 L618.1,65.0 L621.5,64.1 L624.7,69.7 L628.5,80.1 L631.7,79.2 L635.5,84.8 L638.5,81.4 L642.6,83.9 L649.2,85.8 L652.1,102.7 L655.8,89.0 L659.2,86.3 L662.5,81.0 L669.1,77.6 L672.8,83.9 L677.0,95.8 L679.2,100.7 L682.5,90.7 L686.3,93.7 L689.7,96.9 L692.9,93.1 L696.7,86.9 L699.9,84.6 L702.9,75.2 L706.7,81.8 L709.9,79.0 L713.7,79.9 L716.5,70.5 L720.3,73.3 L723.7,89.9 L727.8,82.7 L730.7,80.8 L733.9,75.2 L737.3,79.3 L740.5,63.9 L747.1,80.5 L752.4,73.3 L757.6,67.3 L761.4,69.5 L764.6,69.5 L767.5,67.3 L771.2,67.6 L774.6,66.7 L777.8,83.7 L781.6,83.7 L784.4,78.0 L788.2,93.1 L791.0,100.7 L793.9,92.2 L799.5,89.9 L805.2,87.5 L808.0,84.2 L811.2,85.6 L814.6,95.9 L818.4,127.1 L821.8,129.5 L825.0,120.1 L827.8,130.8 L831.7,129.4 L835.3,135.8 L838.9,113.1 L844.8,105.5 L848.0,106.8 L855.4,115.3 L859.2,104.7 L862.8,105.5 L865.6,102.5 L869.2,91.9 L872.4,93.4 L879.2,77.5 L885.1,83.5 L889.7,91.3 L893.6,87.1 L897.8,79.2 L902.0,76.5 L905.8,76.5 L910.1,79.7 L913.7,75.0 L916.9,80.1 L920.7,77.5 L923.6,85.6 L927.0,78.0 L931.7,81.4 L934.9,81.4 L940.2,75.4 L944.0,74.4 L947.0,81.8 L950.8,81.4 L957.1,65.9 L960.9,60.2 L963.9,75.4 L968.8,71.2 L974.1,70.8 L977.9,68.0 L980.8,68.6 L984.7,62.3 L988.5,65.9 L991.4,60.2 L994.8,63.1 L1001.2,66.5 L1004.8,81.4" fill="none" stroke="#15b87b" stroke-width="2" stroke-linejoin="round" stroke-linecap="round"/>
<rect x="10.8" y="276.5" width="14.7" height="7" fill="#fff" opacity="0.94"/>
<!-- watermark -->
<g opacity="1">
<path d="M874.23,312.52 A10.9,10.9 0 1 0 869.15,319.14" fill="none" stroke="#d5d9e1" stroke-width="2"/>
<path d="M857.3,314 L861.6,306.2 Q862.8,304.6 863.6,306.4 L864.6,311.8 L868.4,306 Q869.6,304.4 870.3,306.3 L871.4,311 Q872.3,314.2 874.2,313" fill="none" stroke="#d5d9e1" stroke-width="2" stroke-linejoin="round" stroke-linecap="round"/>
<text x="883.6" y="316.2" style="font-family:'Liberation Sans';font-weight:bold;font-size:14px;letter-spacing:0.45px;fill:#d5d9e1;">CoinMarketCap</text>
</g>
<!-- y axis labels -->
<g class="lbl" style="letter-spacing:0.38px"><text x="1013.5" y="72.4">3,000.0</text><text x="1013.5" y="131.9">2,950.0</text><text x="1013.5" y="191.4">2,900.0</text><text x="1013.5" y="250.9">2,850.0</text><text x="1013.5" y="309.9">2,800.0</text></g>
<text x="1019.5" y="359" style="font-family:'Liberation Sans';font-weight:bold;font-size:12px;fill:#808a9d;">USD</text>
<!-- price badge -->
<rect x="1007" y="69.2" width="52" height="25.4" rx="2.5" fill="#16c784"/>
<text x="1013.9" y="86" style="font-family:'Liberation Sans';font-size:11px;fill:#fff;">2,989.1</text>
<!-- x labels -->
<g class="lbl">
<text x="11.4" y="378">8:00 ...</text>
<text x="89.6" y="378" text-anchor="middle">10:00 PM</text><text x="170.9" y="378" text-anchor="middle">11 Jul</text><text x="252.2" y="378" text-anchor="middle">2:00 AM</text><text x="333.5" y="378" text-anchor="middle">4:00 AM</text><text x="414.8" y="378" text-anchor="middle">6:00 AM</text><text x="496.1" y="378" text-anchor="middle">8:00 AM</text><text x="577.4" y="378" text-anchor="middle">10:00 AM</text><text x="658.7" y="378" text-anchor="middle">12:00 PM</text><text x="740" y="378" text-anchor="middle">2:00 PM</text><text x="821.3" y="378" text-anchor="middle">4:00 PM</text><text x="902.6" y="378" text-anchor="middle">6:00 PM</text><text x="983.9" y="378" text-anchor="middle">8:00 PM</text>
</g>
<!-- badge 79 -->
<path d="M9.2,395 Q8.4,396.2 9.2,397.4 L15.6,406.6 Q16.9,408.2 19.2,408.2 L41,408.2 A11.9,11.9 0 0 0 41,384.4 L19.2,384.4 Q16.9,384.4 15.6,386 Z" fill="#a6b0c3"/>
<g fill="none" stroke="#fff" stroke-width="1.6" stroke-linecap="round">
<path d="M19.2,396.2 A5.1,5.1 0 1 0 20.6,392.1"/>
<path d="M24.2,393 L24.2,395.9 L26.3,397.2"/>
</g>
<path d="M18.2,390.8 L21.5,391.6 L19.9,394.4 Z" fill="#fff"/>
<text x="34.2" y="400.2" style="font-family:'Liberation Sans';font-size:11.6px;fill:#fff">79</text>
<!-- news pill -->
<path d="M929.5,384.5 L933,380.3 L936.5,384.5 Z" fill="#7b3fe4"/>
<rect x="861" y="384.2" width="143.5" height="24.3" rx="12.15" fill="#7b3fe4"/>
<path d="M874.5,389.5 L869.5,397 L873.5,397 L872,402.5 L877.5,394.8 L873.5,394.8 Z" fill="none" stroke="#fff" stroke-width="1.3" stroke-linejoin="round"/>
<text x="884" y="400" style="font-family:'Liberation Sans';font-size:12px;fill:#fff;stroke:#fff;stroke-width:0.35px">S</text>
<text x="907.6" y="400" style="font-family:'Liberation Sans';font-size:12px;fill:#fff;stroke:#fff;stroke-width:0.2px;letter-spacing:-0.1px">pLink's $475M ...</text>
<path d="M896.2,381.5 L904,389 A11.3,11.3 0 1 1 888.4,389 Z" fill="#16c784"/>
<circle cx="896.2" cy="396.5" r="11.3" fill="#16c784"/>
<g fill="none" stroke="#fff" stroke-width="1.3" stroke-linejoin="round">
<path d="M891.5,391 L897.5,391 L901,394.5 L901,402 L891.5,402 Z"/>
<path d="M897,391 L897,395 L901,395"/>
<path d="M893.8,397.5 L898.5,397.5 M893.8,399.8 L898.5,399.8" stroke-width="1"/>
</g>
<!-- navigator -->
<g stroke="#f1f2f3" stroke-width="1">
<line x1="7.9" y1="413.5" x2="1007" y2="413.5"/>
<line x1="7.9" y1="454" x2="1007" y2="454"/>
<line x1="47.6" y1="413.5" x2="47.6" y2="453.5"/><line x1="148.3" y1="413.5" x2="148.3" y2="453.5"/><line x1="249.0" y1="413.5" x2="249.0" y2="453.5"/><line x1="349.7" y1="413.5" x2="349.7" y2="453.5"/><line x1="450.4" y1="413.5" x2="450.4" y2="453.5"/><line x1="551.1" y1="413.5" x2="551.1" y2="453.5"/><line x1="651.8" y1="413.5" x2="651.8" y2="453.5"/><line x1="752.5" y1="413.5" x2="752.5" y2="453.5"/><line x1="853.2" y1="413.5" x2="853.2" y2="453.5"/><line x1="953.9" y1="413.5" x2="953.9" y2="453.5"/>
</g>
<path d="M7.9,453.4 L9.7,453.4 L11.5,453.4 L13.4,453.4 L15.2,453.4 L17.0,453.4 L18.8,453.4 L20.7,453.4 L22.5,453.4 L24.3,453.4 L26.1,453.4 L27.9,453.4 L29.8,453.4 L31.6,453.4 L33.4,453.4 L35.2,453.4 L37.0,453.4 L38.9,453.4 L40.7,453.4 L42.5,453.4 L44.3,453.3 L46.2,453.3 L48.0,453.3 L49.8,453.3 L51.6,453.3 L53.4,453.3 L55.3,453.3 L57.1,453.3 L58.9,453.3 L60.7,453.3 L62.6,453.3 L64.4,453.3 L66.2,453.3 L68.0,453.3 L69.8,453.3 L71.7,453.3 L73.5,453.3 L75.3,453.3 L77.1,453.3 L79.0,453.3 L80.8,453.3 L82.6,453.3 L84.4,453.3 L86.2,453.3 L88.1,453.3 L89.9,453.3 L91.7,453.3 L93.5,453.3 L95.3,453.3 L97.2,453.3 L99.0,453.3 L100.8,453.3 L102.6,453.3 L104.5,453.3 L106.3,453.3 L108.1,453.3 L109.9,453.3 L111.7,453.3 L113.6,453.3 L115.4,453.2 L117.2,453.2 L119.0,453.2 L120.9,453.2 L122.7,453.2 L124.5,453.2 L126.3,453.2 L128.1,453.2 L130.0,453.2 L131.8,453.2 L133.6,453.2 L135.4,453.2 L137.2,453.2 L139.1,453.2 L140.9,453.2 L142.7,453.2 L144.5,453.2 L146.4,453.2 L148.2,453.2 L150.0,453.2 L151.9,453.2 L153.7,453.1 L155.6,453.1 L157.5,453.1 L159.4,453.1 L161.2,453.0 L163.1,453.0 L165.0,453.0 L166.8,452.9 L168.7,452.9 L170.6,452.9 L172.5,452.9 L174.3,452.8 L176.2,452.8 L178.1,452.8 L179.9,452.7 L181.8,452.7 L183.7,452.7 L185.6,452.7 L187.4,452.6 L189.3,452.6 L191.2,452.5 L193.0,452.5 L194.9,452.4 L196.8,452.3 L198.6,452.2 L200.5,452.2 L202.4,452.1 L204.2,452.0 L206.1,451.9 L208.0,451.8 L209.8,451.8 L211.7,451.7 L213.6,451.7 L215.4,451.6 L217.3,451.3 L219.2,451.1 L221.0,451.4 L222.9,451.0 L224.8,450.8 L226.7,451.2 L228.5,450.7 L230.4,450.8 L232.3,450.4 L234.1,450.4 L236.0,449.9 L237.9,449.9 L239.7,449.8 L241.6,449.1 L243.4,449.0 L245.3,448.5 L247.2,446.1 L249.0,445.7 L250.9,443.9 L252.8,444.0 L254.6,444.2 L256.5,446.5 L258.4,446.5 L260.3,447.2 L262.1,447.8 L264.0,447.9 L265.8,448.5 L267.7,448.2 L269.6,449.3 L271.4,449.5 L273.3,450.5 L275.4,449.9 L277.5,448.6 L279.6,448.0 L281.7,447.4 L283.7,448.6 L285.8,448.2 L287.8,448.6 L289.9,448.5 L291.9,448.9 L293.8,449.0 L295.6,449.2 L297.5,449.6 L299.4,449.9 L301.2,450.3 L303.1,450.4 L305.0,450.7 L306.9,450.9 L308.7,451.2 L310.6,451.2 L312.5,451.1 L314.3,451.6 L316.2,451.8 L318.1,451.9 L320.0,451.9 L321.8,452.0 L323.7,452.2 L325.6,452.3 L327.4,452.5 L329.3,452.6 L331.2,452.6 L333.0,452.6 L334.9,452.6 L336.8,452.6 L338.6,452.6 L340.5,452.6 L342.4,452.6 L344.2,452.6 L346.1,452.6 L348.0,452.6 L349.8,452.6 L351.7,452.6 L353.5,452.6 L355.4,452.6 L357.3,452.6 L359.1,452.6 L361.0,452.6 L362.9,452.6 L364.7,452.6 L366.6,452.6 L368.4,452.6 L370.3,452.6 L372.1,452.6 L374.0,452.6 L375.8,452.6 L377.6,452.6 L379.5,452.6 L381.3,452.6 L383.2,452.6 L385.0,452.6 L386.9,452.6 L388.7,452.6 L390.5,452.6 L392.4,452.6 L394.2,452.5 L396.1,452.5 L397.9,452.5 L399.7,452.5 L401.6,452.5 L403.4,452.5 L405.3,452.5 L407.1,452.5 L409.0,452.5 L410.8,452.5 L412.6,452.5 L414.5,452.5 L416.3,452.5 L418.2,452.5 L420.0,452.5 L421.9,452.5 L423.7,452.5 L425.6,452.5 L427.4,452.5 L429.3,452.5 L431.1,452.5 L433.0,452.5 L434.8,452.5 L436.7,452.5 L438.5,452.5 L440.4,452.5 L442.2,452.5 L444.1,452.5 L445.9,452.4 L447.8,452.4 L449.6,452.4 L451.5,452.4 L453.3,452.4 L455.2,452.4 L457.0,452.4 L458.9,452.4 L460.7,452.4 L462.6,452.4 L464.4,452.4 L466.3,452.4 L468.1,452.4 L470.0,452.4 L471.9,452.4 L473.8,452.4 L475.6,452.4 L477.5,452.4 L479.4,452.4 L481.2,452.4 L483.1,452.4 L485.0,452.4 L486.9,452.3 L488.8,452.3 L490.6,452.3 L492.5,452.3 L494.4,452.3 L496.2,452.3 L498.1,452.3 L500.0,452.3 L501.9,452.2 L503.7,452.1 L505.6,452.0 L507.5,451.9 L509.3,451.9 L511.2,451.6 L513.1,451.8 L515.0,451.6 L516.8,451.4 L518.7,451.2 L520.6,451.5 L522.4,451.5 L524.3,450.9 L526.2,451.1 L528.2,450.6 L530.1,450.3 L532.1,450.1 L534.0,450.3 L535.9,450.2 L537.9,449.3 L539.8,449.6 L541.8,448.9 L543.7,449.3 L545.8,448.2 L547.9,448.2 L550.0,447.7 L552.1,446.2 L554.2,446.0 L556.4,443.4 L558.5,441.5 L560.6,441.7 L563.0,438.4 L565.5,437.4 L567.9,439.9 L570.3,442.2 L572.1,439.4 L574.0,437.4 L575.8,438.9 L577.6,435.2 L579.6,436.6 L581.7,434.9 L583.7,431.2 L585.8,426.7 L587.8,422.1 L591.0,433.5 L593.4,434.5 L595.8,435.6 L597.6,436.4 L599.5,438.3 L601.3,437.1 L603.1,437.4 L605.5,436.8 L607.9,432.9 L609.9,430.8 L612.0,431.3 L614.0,426.9 L616.0,426.0 L618.1,422.7 L620.1,423.5 L621.9,427.0 L623.7,427.2 L625.5,428.0 L627.4,426.2 L629.2,421.9 L631.0,422.6 L632.8,420.8 L634.6,420.6 L636.4,418.1 L638.2,418.5 L640.0,419.4 L641.9,417.1 L643.7,418.1 L645.5,421.6 L647.5,420.8 L649.6,415.6 L651.6,414.5 L653.4,421.8 L655.2,427.2 L657.2,428.2 L659.3,428.8 L661.3,429.9 L663.3,431.5 L665.4,430.8 L667.4,431.7 L669.3,432.4 L671.3,428.2 L673.2,429.6 L675.2,429.3 L677.1,426.5 L679.5,427.9 L681.9,432.4 L684.3,431.8 L686.2,432.7 L688.2,435.1 L690.1,437.4 L692.1,436.3 L694.0,438.4 L696.5,441.2 L698.9,445.0 L700.9,443.5 L702.9,443.8 L705.0,441.4 L707.0,441.1 L709.0,441.3 L711.0,441.4 L713.0,440.4 L715.0,440.2 L717.0,440.3 L719.1,441.9 L721.1,441.4 L723.1,443.4 L725.1,443.3 L727.2,441.3 L729.2,441.4 L731.2,442.7 L733.3,442.0 L735.3,442.3 L737.1,441.7 L738.9,441.9 L740.7,443.1 L742.5,444.9 L744.4,443.4 L746.2,443.2 L748.1,443.0 L750.0,442.6 L751.8,442.4 L753.6,443.5 L755.4,441.3 L757.2,440.7 L759.0,443.1 L760.8,442.8 L762.6,442.9 L764.6,440.9 L766.5,442.1 L768.5,441.7 L770.4,439.1 L772.4,440.5 L774.3,440.4 L776.3,439.5 L778.2,438.6 L780.2,437.4 L782.0,437.7 L783.9,437.4 L785.7,436.9 L787.5,438.8 L789.4,437.8 L791.2,439.7 L793.1,437.1 L794.9,440.2 L796.7,439.5 L798.6,440.4 L800.4,440.4 L802.3,440.5 L804.2,439.6 L806.1,437.9 L808.0,440.5 L809.8,438.7 L811.7,439.3 L813.6,440.7 L815.5,440.4 L817.4,440.2 L819.3,441.9 L821.2,441.1 L823.0,440.4 L824.9,440.3 L826.8,442.3 L828.7,441.3 L830.6,442.3 L832.6,440.2 L834.6,438.8 L836.7,439.0 L838.7,439.2 L840.7,435.9 L842.8,437.9 L844.9,438.1 L847.0,437.2 L849.1,436.9 L851.2,433.0 L853.3,435.3 L855.2,436.3 L857.0,432.7 L858.9,433.7 L860.8,433.7 L862.7,433.4 L864.6,431.5 L866.5,430.2 L868.4,430.1 L870.3,424.2 L872.2,421.9 L874.3,423.5 L876.4,424.8 L878.5,425.8 L880.7,430.4 L882.9,430.5 L885.1,427.8 L887.3,430.2 L889.2,428.0 L891.0,426.6 L892.9,425.3 L894.8,425.2 L896.7,425.9 L898.6,425.8 L900.5,425.9 L902.4,427.4 L904.5,426.2 L906.6,427.8 L908.7,428.2 L910.6,428.4 L912.5,428.8 L914.3,430.9 L916.2,433.4 L918.2,434.2 L920.2,434.7 L922.3,432.7 L924.3,434.3 L926.3,433.2 L928.3,432.7 L930.3,432.7 L932.4,433.5 L934.4,434.6 L936.4,433.7 L938.9,432.3 L941.4,428.7 L943.5,425.8 L945.6,425.2 L947.7,424.0 L949.8,422.6 L951.9,425.5 L954.0,426.9 L955.9,429.1 L957.8,429.6 L959.7,427.4 L961.6,430.0 L963.5,431.9 L965.4,431.9 L967.2,435.2 L969.1,436.3 L970.9,439.4 L972.7,439.4 L974.5,440.6 L976.3,440.8 L978.1,440.9 L979.9,441.7 L981.7,441.7 L983.7,438.9 L985.7,439.1 L987.8,435.5 L989.8,434.6 L991.8,435.9 L993.9,432.5 L996.0,432.4 L998.1,432.2 L1000.3,436.0 L1002.5,433.2 L1004.8,432.8 L1007.0,435.2 L1007.0,453.0Z" fill="#eff1f4"/>
<g class="lbl" style="font-size:11px"><text x="47.6" y="470" text-anchor="middle">2016</text><text x="148.3" y="470" text-anchor="middle">2017</text><text x="249.0" y="470" text-anchor="middle">2018</text><text x="349.7" y="470" text-anchor="middle">2019</text><text x="450.4" y="470" text-anchor="middle">2020</text><text x="551.1" y="470" text-anchor="middle">2021</text><text x="651.8" y="470" text-anchor="middle">2022</text><text x="752.5" y="470" text-anchor="middle">2023</text><text x="853.2" y="470" text-anchor="middle">2024</text><text x="953.9" y="470" text-anchor="middle">2025</text></g>
<line x1="1006" y1="413.5" x2="1006" y2="454" stroke="#e6e8eb" stroke-width="1"/>
<!-- handle -->
<rect x="998.5" y="424.5" width="15" height="18" rx="6" fill="#fff" stroke="#e3e6eb" stroke-width="0.8" style="filter:drop-shadow(0 1px 3px rgba(0,0,0,0.16))"/>
<line x1="1004.3" y1="429.5" x2="1004.3" y2="437.5" stroke="#8f97a8" stroke-width="1"/>
<line x1="1007.7" y1="429.5" x2="1007.7" y2="437.5" stroke="#8f97a8" stroke-width="1"/>
</svg>
</body></html>
